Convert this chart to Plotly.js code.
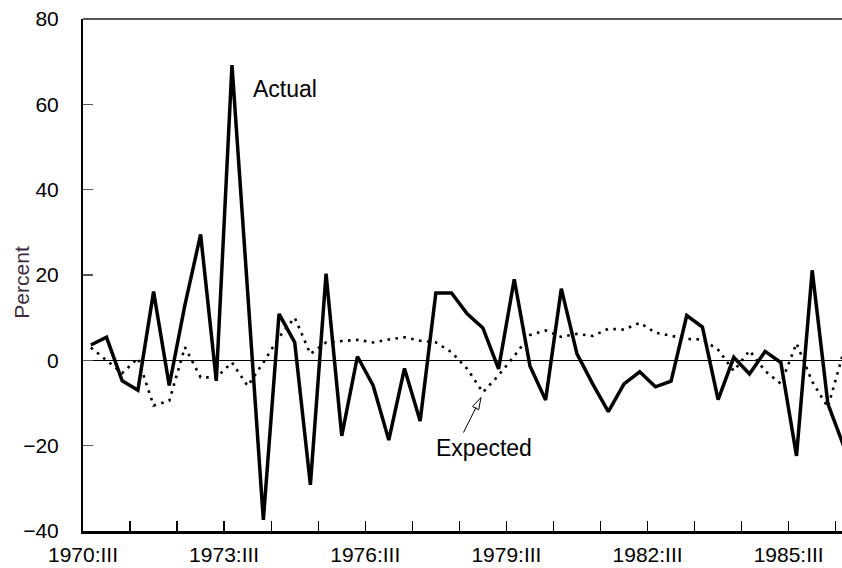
<!DOCTYPE html>
<html>
<head>
<meta charset="utf-8">
<script src="https://cdn.plot.ly/plotly-3.0.1.min.js"></script>
<style>
  html, body { margin: 0; padding: 0; background: #fff; }
  #chart { width: 842px; height: 568px; }
</style>
</head>
<body>
<div id="chart"></div>
<script>
// Period index (one step per observation), starting at 1970:III
const actual = [3.6, 5.4, -4.8, -7.0, 16.1, -5.9, 13, 29.5, -4.8, 69.2,
  16, -37.4, 10.9, 4.2, -29.2, 20.3, -17.7, 0.9, -5.9, -18.7,
  -1.9, -14.2, 15.8, 15.8, 10.9, 7.6, -2.0, 19.0, -1.3, -9.3,
  16.8, 1.5, -5.5, -12.0, -5.5, -2.7, -6.2, -4.9, 10.5, 7.8,
  -9.2, 0.7, -3.2, 2.1, -0.5, -22.4, 21.1, -10.2, -20];
const expected = [3, 0, -3, 0.5, -10.6, -9.5, 3.1, -4, -4, -0.5,
  -6, -0.5, 5.4, 10, 1.5, 4.2, 4.5, 4.8, 4.2, 4.9,
  5.4, 4.6, 4.2, 1.9, -2, -7.5, -3.5, 1, 5.9, 7,
  5.5, 6.2, 5.7, 7.4, 7.2, 8.8, 6.5, 5.8, 5.0, 4.9,
  2.5, -2.5, 2.3, -2.5, -5.5, 4, -5, -11, 2];
const tickLabels = ['1970:III', '1973:III', '1976:III', '1979:III', '1982:III', '1985:III'];
const yTicks = [-40, -20, 0, 20, 40, 60, 80];

const idx = actual.map((_, i) => i);

// minor ticks every 3 periods, label every 9 periods
const tickvals = [];
const ticktext = [];
for (let k = 0; k < 17; k++) {
  tickvals.push(-0.5 + 3 * k);
  ticktext.push(k % 3 === 0 && tickLabels[k / 3] ? tickLabels[k / 3] : '');
}

const FONT = 'Liberation Sans, Arial, Helvetica, sans-serif';

const traces = [
  {
    x: idx, y: expected, type: 'scatter', mode: 'lines', name: 'Expected',
    line: { color: '#000', width: 2.6, dash: '2.6px,5.4px' }, hoverinfo: 'skip'
  },
  {
    x: idx, y: actual, type: 'scatter', mode: 'lines', name: 'Actual',
    line: { color: '#000', width: 3.5 }, hoverinfo: 'skip'
  }
];

const layout = {
  width: 842, height: 568,
  margin: { l: 83, r: 0, t: 19, b: 37 },
  paper_bgcolor: '#fff', plot_bgcolor: '#fff',
  showlegend: false,
  font: { family: FONT, color: '#000', size: 21 },
  xaxis: {
    range: [-0.5, 47.9],
    tickmode: 'array', tickvals: tickvals, ticktext: ticktext,
    ticks: 'inside', ticklen: 10, tickwidth: 1.3, tickcolor: '#000',
    showline: true, linecolor: '#000', linewidth: 2.5,
    showgrid: false, zeroline: false,
    ticklabelstandoff: 3,
    tickfont: { family: FONT, size: 21, color: '#000' }
  },
  yaxis: {
    range: [-40, 80],
    tickmode: 'array', tickvals: yTicks,
    ticks: 'inside', ticklen: 10, tickwidth: 1.3, tickcolor: '#555',
    showline: true, linecolor: '#000', linewidth: 2,
    showgrid: false,
    zeroline: true, zerolinecolor: '#000', zerolinewidth: 1.2,
    ticklabelstandoff: 18,
    tickfont: { family: FONT, size: 21, color: '#000' }
  },
  shapes: [
    { type: 'line', xref: 'paper', yref: 'paper', x0: 0, x1: 1, y0: 1, y1: 1,
      line: { color: '#555', width: 2 } },
    { type: 'path', xref: 'x', yref: 'y', xsizemode: 'pixel', ysizemode: 'pixel',
      xanchor: 24.88, yanchor: -8.7,
      path: 'M0,0 L-2.3,-12.3 L-8.5,-9.1 Z',
      fillcolor: '#fff', line: { color: '#000', width: 1 } }
  ],
  annotations: [
    { xref: 'x', yref: 'y', x: 12.35, y: 63.6, text: 'Actual', showarrow: false,
      font: { family: FONT, size: 23, color: '#000' } },
    { xref: 'x', yref: 'y', x: 25.07, y: -20.5, text: 'Expected', showarrow: false,
      font: { family: FONT, size: 23, color: '#000' } },
    { xref: 'x', yref: 'y', x: 24.88, y: -8.7, text: '', showarrow: true,
      ax: -18.3, ay: 36.6, arrowhead: 0, arrowwidth: 1, arrowcolor: '#000', standoff: 11 },
    { xref: 'paper', yref: 'paper', x: -0.0804, y: 0.487, xanchor: 'center', yanchor: 'middle',
      text: 'Percent', showarrow: false,
      textangle: -90, font: { family: FONT, size: 21, color: '#3d2a3d' } }
  ]
};

Plotly.newPlot('chart', traces, layout, { staticPlot: true, displayModeBar: false });
</script>
</body>
</html>
